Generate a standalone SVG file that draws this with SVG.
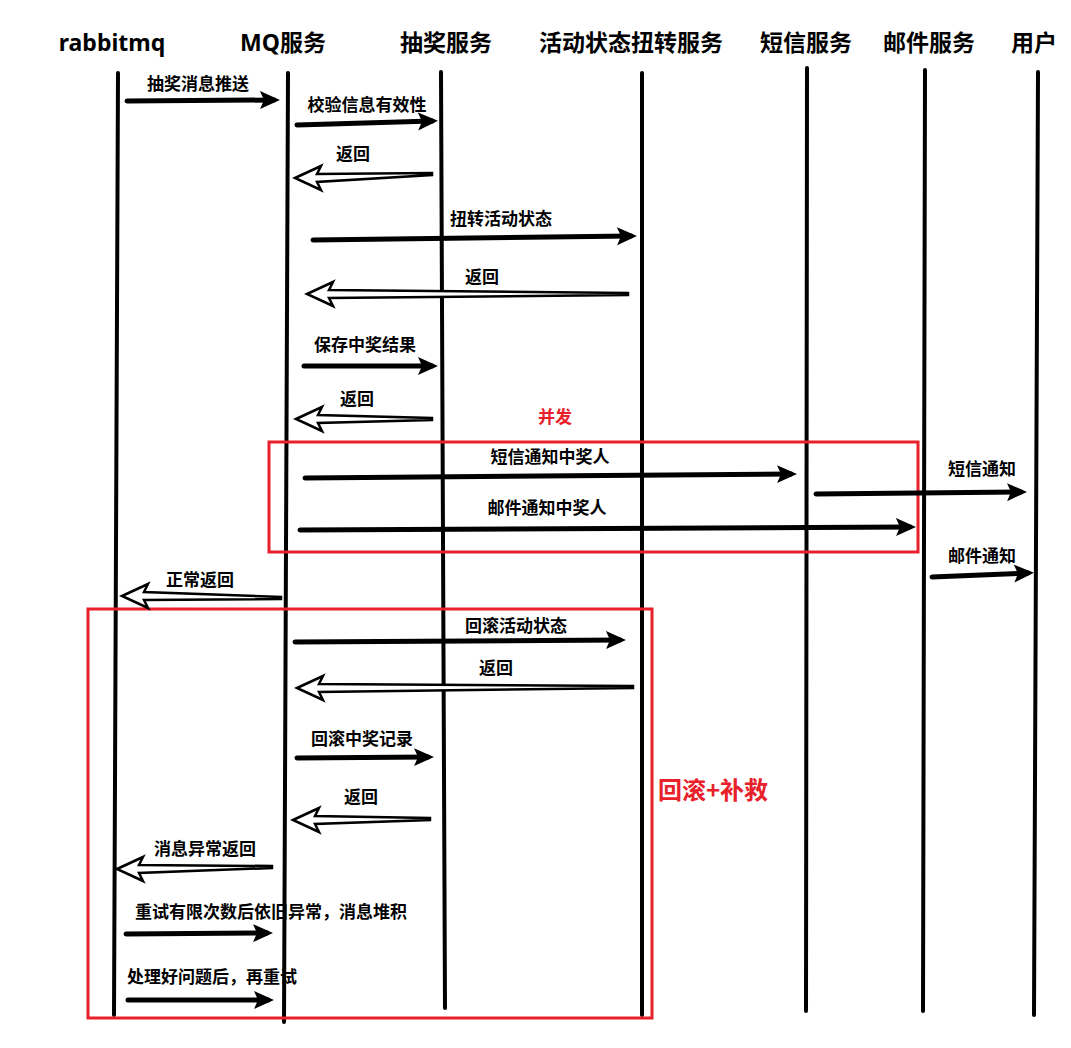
<svg xmlns="http://www.w3.org/2000/svg" width="1071" height="1048" viewBox="0 0 1071 1048">
<style>
.hd{font-family:"Noto Sans","Noto Sans CJK SC",sans-serif;font-weight:700;font-size:23px;fill:#000;text-anchor:middle}
.lb{font-family:"Noto Sans CJK SC",sans-serif;font-weight:700;font-size:17px;fill:#000;text-anchor:middle}
.lbl{font-family:"Noto Sans CJK SC",sans-serif;font-weight:700;font-size:17px;fill:#000}
.red{fill:#e8202a}
.life{stroke:#000;stroke-width:4;stroke-linecap:round;fill:none}
.fa{stroke:#000;stroke-width:5;stroke-linecap:round;fill:none;marker-end:url(#ah)}
.ho{fill:#fff;stroke:#000;stroke-width:2.5;stroke-linejoin:miter}
.box{fill:none;stroke:#e8202a;stroke-width:3}
</style>
<defs>
<marker id="ah" markerUnits="userSpaceOnUse" markerWidth="22" markerHeight="22" refX="14" refY="11" orient="auto">
<path d="M0,2 L20,11 L0,20 L4,11 z" fill="#000"/>
</marker>
</defs>
<rect width="1071" height="1048" fill="#fff"/>

<g id="rabbitmq"><text class="hd" x="112" y="51">rabbitmq</text><line class="life" x1="118" y1="73" x2="114" y2="1015"/></g>
<g id="mq"><text class="hd" x="283" y="51">MQ服务</text><line class="life" x1="288" y1="73" x2="284" y2="1022"/></g>
<g id="lottery"><text class="hd" x="446" y="51">抽奖服务</text><line class="life" x1="441" y1="72" x2="445" y2="1008"/></g>
<g id="activity"><text class="hd" x="631" y="51">活动状态扭转服务</text><line class="life" x1="642" y1="73" x2="642" y2="1015"/></g>
<g id="sms"><text class="hd" x="806" y="51">短信服务</text><line class="life" x1="807" y1="68" x2="806" y2="1011"/></g>
<g id="mail"><text class="hd" x="929" y="51">邮件服务</text><line class="life" x1="925" y1="70" x2="923" y2="1011"/></g>
<g id="user"><text class="hd" x="1034" y="51">用户</text><line class="life" x1="1038" y1="72" x2="1034" y2="1015"/></g>

<g id="frames">
<rect class="box" x="269" y="442" width="649" height="110"/>
<rect class="box" x="88" y="609" width="564" height="409"/>
<text class="lb red" x="555" y="423">并发</text>
<text class="lb red" x="713" y="799" style="font-size:24px">回滚+补救</text>
</g>

<g id="connectors">
<line class="fa" x1="127" y1="101" x2="274" y2="100"/>
<text class="lb" x="198" y="90">抽奖消息推送</text>
<line class="fa" x1="297" y1="125" x2="432" y2="121"/>
<text class="lb" x="367" y="111">校验信息有效性</text>
<polygon class="ho" points="295,178 321,166 317,174 432,173 432,175 317,182 321,190"/>
<text class="lb" x="353" y="160">返回</text>
<line class="fa" x1="313" y1="240" x2="631" y2="236"/>
<text class="lb" x="501" y="225">扭转活动状态</text>
<polygon class="ho" points="307,294 333,282 329,290 628,293 628,295 329,298 333,306"/>
<text class="lb" x="482" y="283">返回</text>
<line class="fa" x1="304" y1="366" x2="432" y2="366"/>
<text class="lb" x="365" y="351">保存中奖结果</text>
<polygon class="ho" points="296,419 322,407 318,415 432,418 432,420 318,423 322,431"/>
<text class="lb" x="357" y="405">返回</text>
<line class="fa" x1="305" y1="478" x2="791" y2="474"/>
<text class="lb" x="550" y="463">短信通知中奖人</text>
<line class="fa" x1="816" y1="494" x2="1021" y2="492"/>
<text class="lb" x="982" y="475">短信通知</text>
<line class="fa" x1="300" y1="530" x2="910" y2="527"/>
<text class="lb" x="547" y="514">邮件通知中奖人</text>
<line class="fa" x1="932" y1="577" x2="1028" y2="573"/>
<text class="lb" x="982" y="562">邮件通知</text>
<polygon class="ho" points="122,596 148,584 144,592 281,597 281,599 144,600 148,608"/>
<text class="lb" x="200" y="586">正常返回</text>
<line class="fa" x1="295" y1="642" x2="620" y2="640"/>
<text class="lb" x="516" y="632">回滚活动状态</text>
<polygon class="ho" points="297,688 323,676 319,684 633,686 633,688 319,692 323,700"/>
<text class="lb" x="496" y="674">返回</text>
<line class="fa" x1="297" y1="758" x2="428" y2="757"/>
<text class="lb" x="362" y="745">回滚中奖记录</text>
<polygon class="ho" points="293,820 319,808 315,816 430,818 430,820 315,824 319,832"/>
<text class="lb" x="361" y="803">返回</text>
<polygon class="ho" points="117,869 143,857 139,865 272,866 272,868 139,873 143,881"/>
<text class="lb" x="205" y="855">消息异常返回</text>
<line class="fa" x1="126" y1="934" x2="267" y2="933"/>
<text class="lbl" x="135" y="918">重试有限次数后依旧异常，消息堆积</text>
<line class="fa" x1="128" y1="1000" x2="268" y2="1000"/>
<text class="lbl" x="127" y="983">处理好问题后，再重试</text>
</g>
</svg>
